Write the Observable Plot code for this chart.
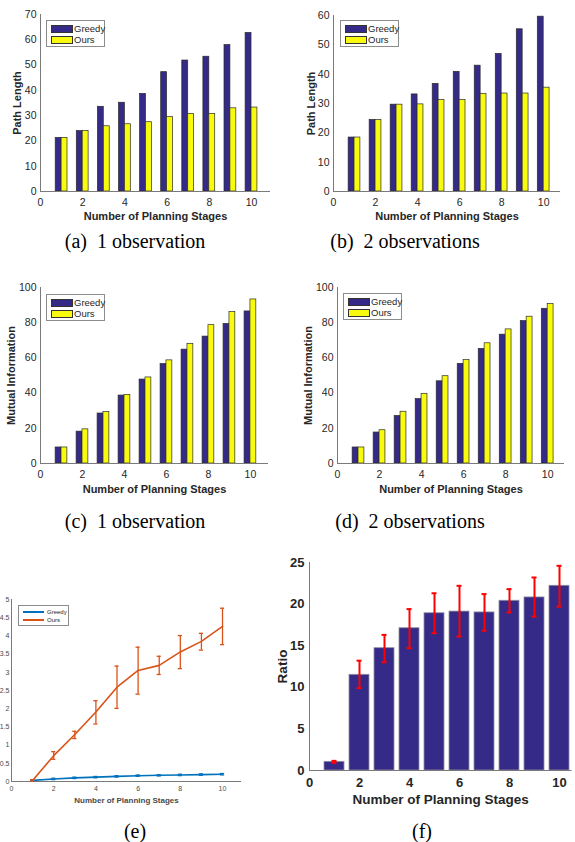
<!DOCTYPE html>
<html><head><meta charset="utf-8">
<script src="https://cdn.jsdelivr.net/npm/d3@7"></script>
<script src="https://cdn.jsdelivr.net/npm/@observablehq/plot@0.6"></script>
<style>
html,body{margin:0;padding:0;background:#fff;}
body{width:575px;height:842px;position:relative;overflow:hidden;font-family:"Liberation Sans",Arial,sans-serif;}
.panel{position:absolute;}
.panel svg{overflow:visible;}
.cap{position:absolute;font-family:"Liberation Serif","Times New Roman",serif;font-size:20px;color:#000;white-space:pre;transform:translate(-50%,-50%);line-height:1;}
.legend{position:absolute;border:1px solid #8c8c8c;background:#fff;box-sizing:border-box;}
.legend .sw{position:absolute;box-sizing:border-box;}
.legend .tx{position:absolute;color:#262626;white-space:nowrap;line-height:1;transform:translateY(-50%);}
</style></head><body>
<script>
// ---------- data ----------
const stages = [1, 2, 3, 4, 5, 6, 7, 8, 9, 10];
const xTickValues = [0, 2, 4, 6, 8, 10];
const seriesNames = ["Greedy", "Ours"];
const xLabelText = "Number of Planning Stages";

// (a) path length, 1 observation
const pathGreedy1 = [21.2, 23.9, 33.5, 35.1, 38.6, 47.2, 51.8, 53.3, 57.9, 62.7];
const pathOurs1   = [21.2, 23.9, 25.8, 26.6, 27.4, 29.5, 30.6, 30.6, 32.9, 33.2];
// (b) path length, 2 observations
const pathGreedy2 = [18.4, 24.4, 29.6, 33.1, 36.7, 40.8, 42.9, 46.9, 55.3, 59.6];
const pathOurs2   = [18.4, 24.4, 29.6, 29.7, 31.2, 31.2, 33.3, 33.4, 33.4, 35.4];
// (c) mutual information, 1 observation
const miGreedy1 = [9.1, 18.1, 28.4, 38.6, 47.7, 56.5, 64.7, 72.1, 79.3, 86.4];
const miOurs1   = [9.1, 19.4, 29.2, 39.0, 48.9, 58.6, 68.0, 78.6, 86.0, 93.2];
// (d) mutual information, 2 observations
const miGreedy2 = [9.1, 17.6, 27.0, 36.6, 46.7, 56.6, 65.1, 73.2, 80.9, 87.9];
const miOurs2   = [9.1, 18.9, 29.4, 39.6, 49.6, 58.8, 68.3, 76.2, 83.4, 90.6];
// (e) line chart with error bars
const eOurs     = [0.03, 0.71, 1.29, 1.91, 2.59, 3.05, 3.19, 3.56, 3.85, 4.26];
const eOursLo   = [0.01, 0.61, 1.18, 1.58, 2.01, 2.40, 2.94, 3.10, 3.61, 3.76];
const eOursHi   = [0.05, 0.82, 1.38, 2.22, 3.17, 3.69, 3.44, 4.01, 4.07, 4.76];
const eGreedy   = [0.03, 0.07, 0.10, 0.12, 0.14, 0.16, 0.17, 0.18, 0.19, 0.20];
const eGreedyLo = [0.02, 0.05, 0.08, 0.10, 0.12, 0.14, 0.15, 0.16, 0.17, 0.18];
const eGreedyHi = [0.04, 0.09, 0.12, 0.14, 0.16, 0.18, 0.19, 0.20, 0.21, 0.22];
const eYTicks = [0, 0.5, 1, 1.5, 2, 2.5, 3, 3.5, 4, 4.5, 5];
// (f) ratio bars with error bars
const ratio   = [1.04, 11.5, 14.7, 17.1, 18.9, 19.1, 19.0, 20.4, 20.8, 22.2];
const ratioLo = [0.92, 9.9, 13.0, 14.7, 16.5, 16.1, 16.8, 19.0, 18.5, 19.7];
const ratioHi = [1.16, 13.2, 16.3, 19.4, 21.3, 22.2, 21.2, 21.8, 23.2, 24.6];
const fYTicks = [0, 5, 10, 15, 20, 25];

const captions = ["(a)  1 observation", "(b)  2 observations", "(c)  1 observation", "(d)  2 observations", "(e)", "(f)"];

// ---------- style ----------
const FONT = "Liberation Sans, Arial, Helvetica, sans-serif";
const TEXT = "#262626";
const AXIS = "#7a7a7a";
const NAVY = "#352A87";
const YELLOW = "#F9FB0E";
const EDGE = "#2b2b2b";
const BLUE = "#0072BD";
const ORANGE = "#D95319";
const RED = "#FF0000";
const BW = 0.28;

function place(el, left, top) {
  const d = document.createElement("div");
  d.className = "panel";
  d.style.left = left + "px";
  d.style.top = top + "px";
  d.appendChild(el);
  document.body.appendChild(d);
}
function styleLabels(svg, size, weight) {
  svg.querySelectorAll('g[aria-label="x-axis label"], g[aria-label="y-axis label"]').forEach(g => {
    g.setAttribute("font-weight", weight);
    g.setAttribute("font-size", size);
  });
}
function barLegend(left, top) {
  const box = document.createElement("div");
  box.className = "legend";
  Object.assign(box.style, {left: left + "px", top: top + "px", width: "59px", height: "27px"});
  [NAVY, YELLOW].forEach((c, i) => {
    const sw = document.createElement("div");
    sw.className = "sw";
    Object.assign(sw.style, {left: "4px", top: (4 + i * 11) + "px", width: "22px", height: "8px", background: c, border: "1px solid #333"});
    box.appendChild(sw);
    const tx = document.createElement("div");
    tx.className = "tx";
    tx.textContent = seriesNames[i];
    Object.assign(tx.style, {left: "27px", top: (8 + i * 11) + "px", fontSize: "9.5px"});
    box.appendChild(tx);
  });
  document.body.appendChild(box);
}
function lineLegend(left, top) {
  const box = document.createElement("div");
  box.className = "legend";
  Object.assign(box.style, {left: left + "px", top: top + "px", width: "51px", height: "21px"});
  [BLUE, ORANGE].forEach((c, i) => {
    const sw = document.createElement("div");
    sw.className = "sw";
    Object.assign(sw.style, {left: "4px", top: (5 + i * 8) + "px", width: "21px", height: "1.6px", background: c});
    box.appendChild(sw);
    const tx = document.createElement("div");
    tx.className = "tx";
    tx.textContent = seriesNames[i];
    Object.assign(tx.style, {left: "28px", top: (6 + i * 8) + "px", fontSize: "6px"});
    box.appendChild(tx);
  });
  document.body.appendChild(box);
}
function caption(text, cx, cy) {
  const d = document.createElement("div");
  d.className = "cap";
  d.textContent = text;
  d.style.left = cx + "px";
  d.style.top = cy + "px";
  document.body.appendChild(d);
}

function barPanel(cfg) {
  const rowsG = stages.map((s, i) => ({stage: s, value: cfg.greedy[i]}));
  const rowsO = stages.map((s, i) => ({stage: s, value: cfg.ours[i]}));
  const svg = Plot.plot({
    width: cfg.width, height: cfg.height,
    marginLeft: cfg.ml, marginRight: cfg.mr, marginTop: cfg.mt, marginBottom: cfg.mb,
    style: {fontFamily: FONT, fontSize: "10.5px", color: TEXT, background: "transparent", overflow: "visible"},
    x: {domain: [0, cfg.xMax]},
    y: {domain: [0, cfg.yMax]},
    marks: [
      Plot.rect(rowsG, {x1: d => d.stage - BW, x2: d => d.stage, y1: 0, y2: "value", fill: NAVY, stroke: EDGE, strokeWidth: 0.7}),
      Plot.rect(rowsO, {x1: d => d.stage, x2: d => d.stage + BW, y1: 0, y2: "value", fill: YELLOW, stroke: EDGE, strokeWidth: 0.7}),
      Plot.ruleY([0], {stroke: AXIS}),
      Plot.ruleX([0], {stroke: AXIS}),
      Plot.axisX({ticks: xTickValues, tickFormat: d => String(d), tickSize: 0, tickPadding: 7,
        label: xLabelText, labelAnchor: "center", labelOffset: cfg.xLabOff, labelArrow: "none"}),
      Plot.axisY({ticks: cfg.yTicks, tickFormat: d => String(d), tickSize: 0, tickPadding: 4,
        label: cfg.yLabel, labelAnchor: "center", labelOffset: cfg.yLabOff, labelArrow: "none"})
    ]
  });
  styleLabels(svg, "11px", "bold");
  place(svg, cfg.left, cfg.top);
}

const pathTicks = d3.range(0, 71, 10);
barPanel({left: 0, top: 0, width: 285, height: 225, ml: 40, mr: 15, mt: 14, mb: 34, xMax: 10.9, yMax: 70,
  yTicks: pathTicks, greedy: pathGreedy1, ours: pathOurs1, yLabel: "Path Length", yLabOff: 27, xLabOff: 28});
barPanel({left: 285, top: 0, width: 290, height: 225, ml: 48, mr: 15, mt: 15, mb: 34, xMax: 10.8, yMax: 60,
  yTicks: d3.range(0, 61, 10), greedy: pathGreedy2, ours: pathOurs2, yLabel: "Path Length", yLabOff: 26, xLabOff: 28});
barPanel({left: 0, top: 270, width: 285, height: 225, ml: 40, mr: 17, mt: 17, mb: 32, xMax: 10.86, yMax: 100,
  yTicks: d3.range(0, 101, 20), greedy: miGreedy1, ours: miOurs1, yLabel: "Mutual Information", yLabOff: 33, xLabOff: 29});
barPanel({left: 285, top: 270, width: 290, height: 225, ml: 52, mr: 11, mt: 17, mb: 32, xMax: 10.8, yMax: 100,
  yTicks: d3.range(0, 101, 20), greedy: miGreedy2, ours: miOurs2, yLabel: "Mutual Information", yLabOff: 33, xLabOff: 29});

barLegend(46, 20);
barLegend(340, 20);
barLegend(46, 294);
barLegend(343, 293);

// (e)
{
  const ours = stages.map((s, i) => ({stage: s, v: eOurs[i], lo: eOursLo[i], hi: eOursHi[i]}));
  const greedy = stages.map((s, i) => ({stage: s, v: eGreedy[i], lo: eGreedyLo[i], hi: eGreedyHi[i]}));
  const cap = 0.1;
  const svg = Plot.plot({
    width: 285, height: 260, marginLeft: 41, marginRight: 14, marginTop: 49, marginBottom: 29,
    style: {fontFamily: FONT, fontSize: "7px", color: "#4a4a4a", background: "transparent", overflow: "visible"},
    x: {domain: [0, 10.9]},
    y: {domain: [0, 5]},
    marks: [
      Plot.ruleY([0], {stroke: AXIS}),
      Plot.ruleX([0], {stroke: AXIS}),
      Plot.ruleX(greedy, {x: "stage", y1: "lo", y2: "hi", stroke: BLUE, strokeWidth: 1.2}),
      Plot.ruleY(greedy, {y: "hi", x1: d => d.stage - cap, x2: d => d.stage + cap, stroke: BLUE, strokeWidth: 1.2}),
      Plot.ruleY(greedy, {y: "lo", x1: d => d.stage - cap, x2: d => d.stage + cap, stroke: BLUE, strokeWidth: 1.2}),
      Plot.line(greedy, {x: "stage", y: "v", stroke: BLUE, strokeWidth: 1.6}),
      Plot.ruleX(ours, {x: "stage", y1: "lo", y2: "hi", stroke: ORANGE, strokeWidth: 1.3}),
      Plot.ruleY(ours, {y: "hi", x1: d => d.stage - cap, x2: d => d.stage + cap, stroke: ORANGE, strokeWidth: 1.3}),
      Plot.ruleY(ours, {y: "lo", x1: d => d.stage - cap, x2: d => d.stage + cap, stroke: ORANGE, strokeWidth: 1.3}),
      Plot.line(ours, {x: "stage", y: "v", stroke: ORANGE, strokeWidth: 1.6}),
      Plot.axisX({ticks: xTickValues, tickFormat: d => String(d), tickSize: 0, tickPadding: 5,
        label: xLabelText, labelAnchor: "center", labelOffset: 21, labelArrow: "none"}),
      Plot.axisY({ticks: eYTicks, tickFormat: d => String(d), tickSize: 0, tickPadding: 2, label: null})
    ]
  });
  styleLabels(svg, "8px", "bold");
  place(svg, -30, 550);
  lineLegend(18, 605);
}

// (f)
{
  const rows = stages.map((s, i) => ({stage: s, v: ratio[i], lo: ratioLo[i], hi: ratioHi[i]}));
  const cap = 0.1;
  const svg = Plot.plot({
    width: 305, height: 260, marginLeft: 39, marginRight: 3.5, marginTop: 12, marginBottom: 40,
    style: {fontFamily: FONT, fontSize: "13px", color: TEXT, background: "transparent", overflow: "visible"},
    x: {domain: [0, 10.5]},
    y: {domain: [0, 25]},
    marks: [
      Plot.rect(rows, {x1: d => d.stage - 0.4, x2: d => d.stage + 0.4, y1: 0, y2: "v", fill: NAVY, stroke: "#8f8f9f", strokeWidth: 0.8}),
      Plot.ruleY([0], {stroke: AXIS}),
      Plot.ruleX([0], {stroke: AXIS}),
      Plot.ruleX(rows, {x: "stage", y1: "lo", y2: "hi", stroke: RED, strokeWidth: 2}),
      Plot.ruleY(rows, {y: "hi", x1: d => d.stage - cap, x2: d => d.stage + cap, stroke: RED, strokeWidth: 2}),
      Plot.ruleY(rows, {y: "lo", x1: d => d.stage - cap, x2: d => d.stage + cap, stroke: RED, strokeWidth: 2}),
      Plot.axisX({ticks: xTickValues, tickFormat: d => String(d), tickSize: 0, tickPadding: 7, fontWeight: "bold",
        label: xLabelText, labelAnchor: "center", labelOffset: 33, labelArrow: "none"}),
      Plot.axisY({ticks: fYTicks, tickFormat: d => String(d), tickSize: 0, tickPadding: 5, fontWeight: "bold",
        label: "Ratio", labelAnchor: "center", labelOffset: 32, labelArrow: "none"})
    ]
  });
  styleLabels(svg, "13.5px", "bold");
  place(svg, 270, 550);
}

// captions
caption(captions[0], 135, 241);
caption(captions[1], 405, 241);
caption(captions[2], 135, 521);
caption(captions[3], 410, 521);
caption(captions[4], 135, 831);
caption(captions[5], 422, 831);
</script>
</body></html>
